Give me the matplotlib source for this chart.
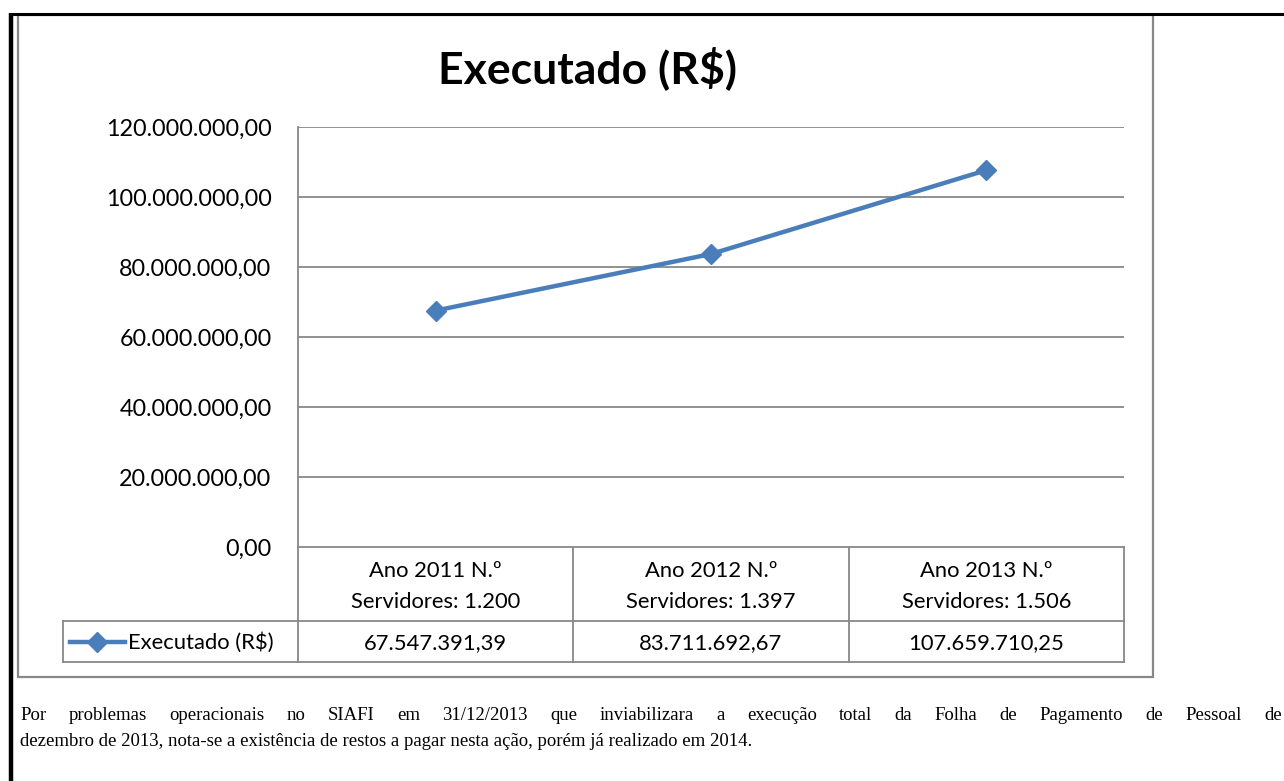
import matplotlib
matplotlib.use("Agg")
import matplotlib.pyplot as plt
from matplotlib.lines import Line2D

W, H = 1284, 781

# data
categories = ["Ano 2011 N.º\nServidores: 1.200",
              "Ano 2012 N.º\nServidores: 1.397",
              "Ano 2013 N.º\nServidores: 1.506"]
values = [67547391.39, 83711692.67, 107659710.25]
series_name = "Executado (R$)"
y_ticks = [0, 20e6, 40e6, 60e6, 80e6, 100e6, 120e6]
note = ("Por problemas operacionais no SIAFI em 31/12/2013 que inviabilizara a execução total da Folha de Pagamento de Pessoal de "
        "dezembro de 2013, nota-se a existência de restos a pagar nesta ação, porém já realizado em 2014.")
note_line1_words = 19  # words on the first (justified) line

BLUE = "#4a7ebb"
GRID = "#888888"
SANS = ["Lato", "DejaVu Sans"]
SERIF = ["Liberation Serif", "DejaVu Serif"]
FS = 15.8


def br(v):
    s = f"{v:,.2f}"
    return s.replace(",", "X").replace(".", ",").replace("X", ".")


def fx(px):
    return px / W


def fy(py):
    return 1 - py / H


fig = plt.figure(figsize=(W / 100, H / 100), dpi=100)
# overlay in pixel coordinates for frames and the data table
ov = fig.add_axes([0, 0, 1, 1])
ov.set_xlim(0, W)
ov.set_ylim(H, 0)
ov.axis("off")

# outer document frame (black)
ov.plot([10, W], [13.5, 13.5], color="black", lw=2.2, solid_capstyle="butt")
ov.plot([11, 11], [12.5, H], color="black", lw=3.2, solid_capstyle="butt")
# chart box (gray)
ov.add_patch(plt.Rectangle((18, 15), 1153 - 18, 677 - 15, fill=False,
                           edgecolor=GRID, lw=1.6))

# plot area
L, R, T, B = 298, 1124, 127, 547
ax = fig.add_axes([fx(L), fy(B), fx(R - L), (B - T) / H])
x = list(range(len(values)))
ax.plot(x, values, color=BLUE, lw=3.2, marker="D", markersize=10.5,
        markerfacecolor=BLUE, markeredgecolor=BLUE, zorder=3)
ax.set_xlim(-0.5, len(values) - 0.5)
ax.set_ylim(y_ticks[0], y_ticks[-1])
ax.set_yticks(y_ticks)
ax.set_yticklabels([br(t) for t in y_ticks], fontsize=16.8, family=SANS)
ax.tick_params(axis="y", length=0, pad=19)
ax.set_xticks([])
ax.grid(axis="y", color=GRID, lw=1.3)
ax.set_axisbelow(True)
for s in ["top", "right", "bottom"]:
    ax.spines[s].set_visible(False)
ax.spines["left"].set_color(GRID)
ax.spines["left"].set_linewidth(1.3)

fig.text(fx(587), fy(68), "Executado (R$)", ha="center", va="center",
         fontsize=32, fontweight="bold", family=SANS)

# data table below the plot
cols = [L + (R - L) * i / len(values) for i in range(len(values) + 1)]
row_mid, row_bot, leg_left = 621, 662, 63
tl = dict(color=GRID, lw=1.3)
ov.plot([L, R], [B, B], **tl)
ov.plot([leg_left, R], [row_mid, row_mid], **tl)
ov.plot([leg_left, R], [row_bot, row_bot], **tl)
ov.plot([leg_left, leg_left], [row_mid, row_bot], **tl)
for c in cols:
    ov.plot([c, c], [B, row_bot], **tl)
for i, (cat, v) in enumerate(zip(categories, values)):
    cx = (cols[i] + cols[i + 1]) / 2
    top_line, bottom_line = cat.split("\n")
    ov.text(cx, 571, top_line, ha="center", va="center", fontsize=FS, family=SANS)
    ov.text(cx, 602, bottom_line, ha="center", va="center", fontsize=FS, family=SANS)
    ov.text(cx, 643, br(v), ha="center", va="center", fontsize=FS, family=SANS)
# legend key in the table
ov.add_line(Line2D([70, 125], [642, 642], color=BLUE, lw=3.2))
ov.plot([97], [642], marker="D", markersize=10.5, color=BLUE)
ov.text(128, 643, series_name, ha="left", va="center", fontsize=FS, family=SANS)

# footnote, first line justified
words = note.split()
fig.canvas.draw()
rend = fig.canvas.get_renderer()
line1, line2 = words[:note_line1_words], words[note_line1_words:]
x0, x1 = 20, 1282
NFS = 13.5
widths = []
for w in line1:
    t = ov.text(0, 0, w, fontsize=NFS, family=SERIF)
    widths.append(t.get_window_extent(rend).width)
    t.remove()
gap = (x1 - x0 - sum(widths)) / (len(line1) - 1)
xpos = x0
for w, wd in zip(line1, widths):
    ov.text(xpos, 716, w, ha="left", va="center", fontsize=NFS, family=SERIF)
    xpos += wd + gap
ov.text(x0, 742, " ".join(line2), ha="left", va="center", fontsize=NFS, family=SERIF)

fig.savefig("out.png", dpi=100, facecolor="white")
